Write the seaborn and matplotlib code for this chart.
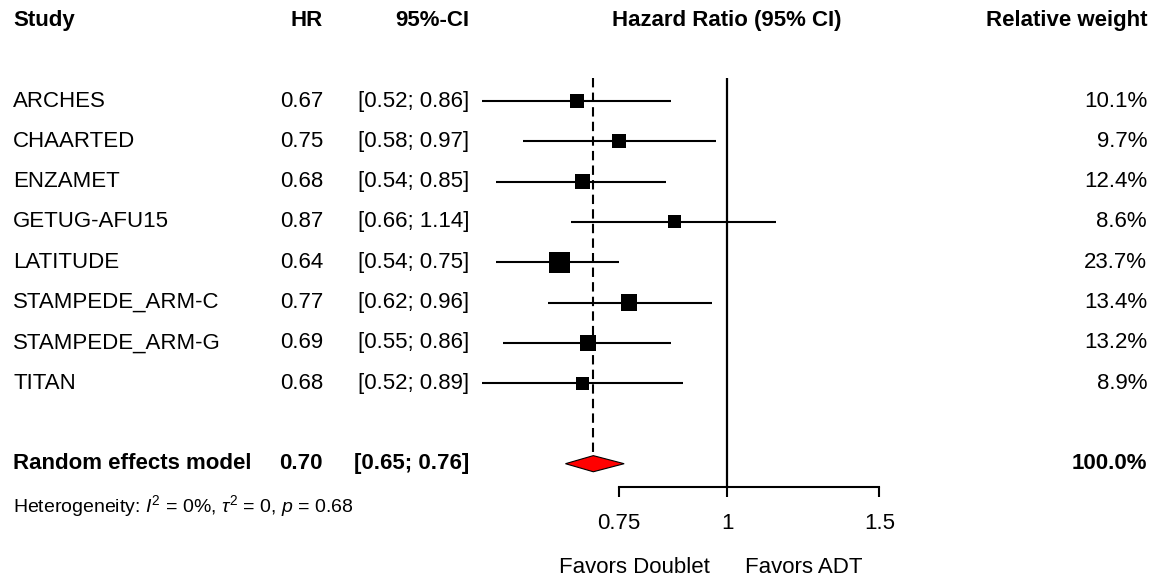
import numpy as np
import pandas as pd
import matplotlib
matplotlib.use("Agg")
import matplotlib.pyplot as plt
import matplotlib.transforms as mtransforms
from matplotlib.patches import Polygon
import seaborn as sns

# ---- data ----
studies = ["ARCHES", "CHAARTED", "ENZAMET", "GETUG-AFU15", "LATITUDE",
           "STAMPEDE_ARM-C", "STAMPEDE_ARM-G", "TITAN"]
hr = [0.67, 0.75, 0.68, 0.87, 0.64, 0.77, 0.69, 0.68]
ci_low = [0.52, 0.58, 0.54, 0.66, 0.54, 0.62, 0.55, 0.52]
ci_high = [0.86, 0.97, 0.85, 1.14, 0.75, 0.96, 0.86, 0.89]
weight = [10.1, 9.7, 12.4, 8.6, 23.7, 13.4, 13.2, 8.9]

pooled_label = "Random effects model"
pooled_hr = 0.70
pooled_low = 0.65
pooled_high = 0.76
pooled_weight = "100.0%"
heterogeneity = r"Heterogeneity: $I^2$ = 0%, $\tau^2$ = 0, $p$ = 0.68"

x_ticks = [0.75, 1, 1.5]
x_ticklabels = ["0.75", "1", "1.5"]
favors_left = "Favors Doublet"
favors_right = "Favors ADT"

# ---- style ----
sns.set_style("white")
plt.rcParams["font.family"] = ["Liberation Sans", "DejaVu Sans"]
plt.rcParams["text.color"] = "black"
plt.rcParams["xtick.color"] = "black"
plt.rcParams["axes.edgecolor"] = "black"
plt.rcParams["mathtext.fontset"] = "custom"
plt.rcParams["mathtext.rm"] = "Liberation Sans"
plt.rcParams["mathtext.it"] = "Liberation Sans:italic"
plt.rcParams["mathtext.bf"] = "Liberation Sans:bold"

FS = 16
W, H = 1156, 580
fig = plt.figure(figsize=(W / 100, H / 100), dpi=100)

# forest panel; rows are indexed 0..n-1, pooled row two rows below the last
top_px, row_px = 101, 40.3
ax = fig.add_axes([470 / W, 0, 430 / W, 1])
ax.set_xscale("log")
ax.set_xlim(0.504, 1.585)
ax.set_ylim((H - top_px) / row_px, -top_px / row_px)

n = len(studies)
rows = np.arange(n)
pooled_row = n + 1
axis_row = pooled_row + 0.58
line_top = -0.57

df = pd.DataFrame({"study": studies, "hr": hr, "lo": ci_low, "hi": ci_high,
                   "w": weight, "row": rows})

# confidence intervals
ax.hlines(df["row"], df["lo"], df["hi"], color="black", lw=1.5, zorder=2)
# study squares, area proportional to weight
sns.scatterplot(data=df, x="hr", y="row", size="w",
                sizes=(10 * min(weight), 10 * max(weight)),
                size_norm=(min(weight), max(weight)),
                marker="s", color="black", linewidth=0, legend=False,
                ax=ax, zorder=3)

# reference lines
ax.vlines(1, line_top, axis_row, color="black", lw=1.6, zorder=1)
ax.plot([pooled_hr, pooled_hr], [line_top, pooled_row - 0.2], color="black",
        lw=1.5, dashes=(4.5, 2.5), zorder=1)

# pooled diamond
dh = 0.2
diamond = Polygon([[pooled_low, pooled_row], [pooled_hr, pooled_row - dh],
                   [pooled_high, pooled_row], [pooled_hr, pooled_row + dh]],
                  closed=True, facecolor="red", edgecolor="black", lw=0.8,
                  zorder=4)
ax.add_patch(diamond)

# axis
for s in ["top", "left", "right"]:
    ax.spines[s].set_visible(False)
ax.spines["bottom"].set_position(("data", axis_row))
ax.spines["bottom"].set_bounds(0.75, 1.5)
ax.spines["bottom"].set_linewidth(1.5)
ax.set_xticks(x_ticks)
ax.set_xticklabels(x_ticklabels)
ax.xaxis.set_minor_locator(matplotlib.ticker.NullLocator())
ax.tick_params(axis="x", direction="out", length=7.5, width=1.5, pad=11.5,
               labelsize=FS, bottom=True, colors="black")
ax.set_yticks([])
ax.set_xlabel("")
ax.set_ylabel("")
ax.patch.set_alpha(0)

fav_row = 11.58
ax.annotate(favors_left, xy=(1, fav_row), xytext=(-12.5, 0),
            textcoords="offset points", ha="right", va="center", fontsize=FS)
ax.annotate(favors_right, xy=(1, fav_row), xytext=(13, 0),
            textcoords="offset points", ha="left", va="center", fontsize=FS)

# text columns: x in figure pixels, y in row units
tr = mtransforms.blended_transform_factory(fig.transFigure, ax.transData)


def col(xpx, row, s, ha, bold=False, size=FS):
    fig.text(xpx / W, row, s, transform=tr, ha=ha, va="center",
             fontsize=size, fontweight="bold" if bold else "normal")


head_row = -2
col(13, head_row, "Study", "left", True)
col(323, head_row, "HR", "right", True)
col(469, head_row, "95%-CI", "right", True)
col(727, head_row, "Hazard Ratio (95% CI)", "center", True)
col(1147, head_row, "Relative weight", "right", True)

for i in range(n):
    col(13, i, studies[i], "left")
    col(323, i, f"{hr[i]:.2f}", "right")
    col(469, i, f"[{ci_low[i]:.2f}; {ci_high[i]:.2f}]", "right")
    col(1147, i, f"{weight[i]:.1f}%", "right")

col(13, pooled_row, pooled_label, "left", True)
col(323, pooled_row, f"{pooled_hr:.2f}", "right", True)
col(469, pooled_row, f"[{pooled_low:.2f}; {pooled_high:.2f}]", "right", True)
col(1147, pooled_row, pooled_weight, "right", True)

col(13, pooled_row + 1.05, heterogeneity, "left", size=14)

fig.savefig("out.png", dpi=100)
